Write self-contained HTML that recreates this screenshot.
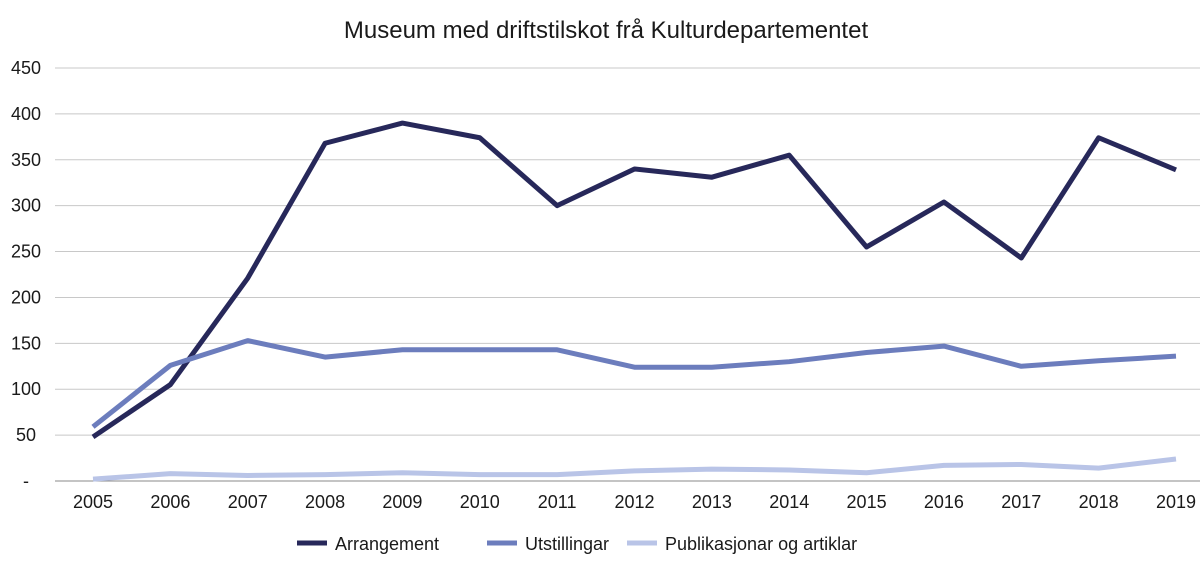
<!DOCTYPE html>
<html><head><meta charset="utf-8"><style>
body{margin:0;background:#fff;font-family:"Liberation Sans",sans-serif;}
svg text{font-family:"Liberation Sans",sans-serif;fill:#1a1a1a;}
</style></head><body>
<svg id="chart" width="1200" height="569">
<text x="606" y="38" font-size="24" text-anchor="middle">Museum med driftstilskot frå Kulturdepartementet</text>
<g id="grid"></g><g id="ylab"></g><g id="xlab"></g><g id="lines"></g><g id="legend"></g>
</svg>
<script>
const years=["2005","2006","2007","2008","2009","2010","2011","2012","2013","2014","2015","2016","2017","2018","2019"];
const arrangement=[48,105,221,368,390,374,300,340,331,355,255,304,243,374,339];
const utstillingar=[59,126,153,135,143,143,143,124,124,130,140,147,125,131,136];
const publikasjonar=[2,8,6,7,9,7,7,11,13,12,9,17,18,14,24];
const yTicks=[0,50,100,150,200,250,300,350,400,450];
const yTickLabels=["-","50","100","150","200","250","300","350","400","450"];
const seriesNames=["Arrangement","Utstillingar","Publikasjonar og artiklar"];
const colors=["#27285a","#6c7dbd","#b9c4e7"];
const NS="http://www.w3.org/2000/svg";
const y=v=>481-v*(413/450);
const x=i=>93+i*(1083/14);
function mk(t,a,p){const e=document.createElementNS(NS,t);for(const k in a)e.setAttribute(k,a[k]);p.appendChild(e);return e;}
const g=document.getElementById('grid'),yl=document.getElementById('ylab'),xl=document.getElementById('xlab'),ln=document.getElementById('lines'),lg=document.getElementById('legend');
yTicks.forEach((t,i)=>{
 const l=mk('line',{x1:55,x2:1200,y1:y(t),y2:y(t),stroke:t===0?'#888':'#c8c8c8','stroke-width':1},g);
 
 
 const tx=mk('text',{x:26,y:y(t)+6,'font-size':18,'text-anchor':'middle'},yl);tx.textContent=yTickLabels[i];
 
 
});
years.forEach((yr,i)=>{
 const tx=mk('text',{x:x(i),y:508,'font-size':18,'text-anchor':'middle'},xl);tx.textContent=yr;
 
 
});
[arrangement,utstillingar,publikasjonar].forEach((s,k)=>{
 const p=mk('polyline',{points:s.map((v,i)=>x(i)+','+y(v)).join(' '),fill:'none',stroke:colors[k],'stroke-width':5,'stroke-linejoin':'round'},ln);
 
 
});
const lx=[297,487,627];
seriesNames.forEach((n,k)=>{
 const gg=mk('g',{},lg);
 
 
 mk('line',{x1:lx[k],x2:lx[k]+30,y1:543,y2:543,stroke:colors[k],'stroke-width':5},gg);
 const t=mk('text',{x:lx[k]+38,y:550,'font-size':18},gg);t.textContent=n;
});
</script>
</body></html>
